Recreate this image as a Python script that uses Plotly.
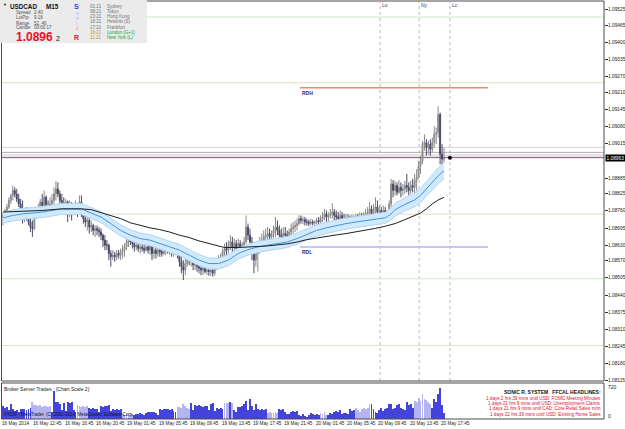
import plotly.graph_objects as go

# ---------------- data ----------------
bar_index = list(range(226))

opens = [1.08737,1.08743,1.08762,1.08775,1.08800,1.08819,1.08838,1.08825,1.08806,1.08787,
1.08768,1.08737,1.08749,1.08731,1.08718,1.08699,1.08693,1.08737,1.08762,1.08768,
1.08794,1.08781,1.08812,1.08775,1.08768,1.08787,1.08800,1.08825,1.08844,1.08825,
1.08800,1.08787,1.08781,1.08794,1.08768,1.08775,1.08762,1.08768,1.08775,1.08762,
1.08794,1.08749,1.08731,1.08718,1.08724,1.08699,1.08705,1.08686,1.08693,1.08686,
1.08680,1.08668,1.08649,1.08630,1.08630,1.08598,1.08586,1.08592,1.08586,1.08598,
1.08592,1.08605,1.08611,1.08623,1.08642,1.08649,1.08642,1.08636,1.08623,1.08630,
1.08617,1.08623,1.08617,1.08611,1.08623,1.08611,1.08630,1.08598,1.08611,1.08598,
1.08611,1.08605,1.08598,1.08611,1.08617,1.08611,1.08623,1.08605,1.08611,1.08617,
1.08598,1.08567,1.08548,1.08535,1.08560,1.08579,1.08573,1.08586,1.08554,1.08567,
1.08548,1.08542,1.08535,1.08542,1.08529,1.08535,1.08529,1.08535,1.08523,1.08548,
1.08567,1.08573,1.08586,1.08605,1.08617,1.08611,1.08630,1.08642,1.08623,1.08636,
1.08617,1.08636,1.08623,1.08630,1.08642,1.08699,1.08668,1.08642,1.08598,1.08573,
1.08598,1.08611,1.08636,1.08649,1.08661,1.08668,1.08674,1.08661,1.08674,1.08686,
1.08699,1.08686,1.08668,1.08661,1.08674,1.08668,1.08661,1.08680,1.08693,1.08699,
1.08705,1.08712,1.08731,1.08724,1.08727,1.08718,1.08718,1.08712,1.08718,1.08714,
1.08718,1.08724,1.08718,1.08731,1.08737,1.08749,1.08737,1.08743,1.08749,1.08756,
1.08743,1.08737,1.08731,1.08743,1.08731,1.08727,1.08734,1.08724,1.08724,1.08734,
1.08727,1.08737,1.08734,1.08739,1.08731,1.08743,1.08749,1.08756,1.08768,1.08737,
1.08762,1.08775,1.08756,1.08762,1.08743,1.08762,1.08737,1.08731,1.08787,1.08863,
1.08838,1.08857,1.08831,1.08850,1.08838,1.08844,1.08857,1.08850,1.08838,1.08857,
1.08850,1.08875,1.08888,1.08932,1.08951,1.09014,1.09020,1.09001,1.09014,1.08995,
1.09020,1.09052,1.09058,1.09127,1.08976,1.08957]

highs = [1.08756,1.08768,1.08787,1.08812,1.08825,1.08857,1.08850,1.08844,1.08825,1.08806,
1.08800,1.08768,1.08775,1.08756,1.08737,1.08724,1.08749,1.08775,1.08787,1.08806,
1.08825,1.08838,1.08819,1.08800,1.08812,1.08825,1.08850,1.08873,1.08869,1.08838,
1.08825,1.08812,1.08806,1.08800,1.08800,1.08794,1.08787,1.08800,1.08787,1.08819,
1.08819,1.08768,1.08749,1.08737,1.08737,1.08724,1.08712,1.08705,1.08705,1.08699,
1.08693,1.08674,1.08668,1.08649,1.08636,1.08611,1.08611,1.08605,1.08611,1.08611,
1.08617,1.08630,1.08636,1.08655,1.08661,1.08661,1.08655,1.08649,1.08642,1.08649,
1.08642,1.08642,1.08636,1.08636,1.08642,1.08649,1.08649,1.08636,1.08623,1.08623,
1.08630,1.08623,1.08623,1.08630,1.08630,1.08636,1.08630,1.08623,1.08630,1.08636,
1.08617,1.08598,1.08573,1.08579,1.08592,1.08598,1.08605,1.08598,1.08586,1.08586,
1.08573,1.08560,1.08554,1.08560,1.08554,1.08554,1.08548,1.08554,1.08567,1.08579,
1.08592,1.08598,1.08617,1.08636,1.08642,1.08649,1.08668,1.08661,1.08655,1.08649,
1.08655,1.08649,1.08642,1.08661,1.08743,1.08712,1.08693,1.08661,1.08642,1.08623,
1.08636,1.08661,1.08674,1.08686,1.08693,1.08699,1.08693,1.08686,1.08705,1.08737,
1.08724,1.08705,1.08693,1.08699,1.08699,1.08686,1.08693,1.08712,1.08718,1.08724,
1.08731,1.08743,1.08743,1.08739,1.08737,1.08731,1.08727,1.08731,1.08727,1.08724,
1.08734,1.08737,1.08743,1.08756,1.08768,1.08762,1.08756,1.08768,1.08790,1.08768,
1.08762,1.08756,1.08762,1.08756,1.08749,1.08749,1.08747,1.08743,1.08747,1.08743,
1.08749,1.08749,1.08756,1.08752,1.08756,1.08768,1.08775,1.08794,1.08781,1.08787,
1.08812,1.08800,1.08781,1.08775,1.08781,1.08775,1.08762,1.08800,1.08882,1.08878,
1.08875,1.08869,1.08878,1.08869,1.08863,1.08875,1.08901,1.08869,1.08875,1.08882,
1.08901,1.08919,1.08951,1.08970,1.09027,1.09052,1.09033,1.09027,1.09033,1.09039,
1.09083,1.09077,1.09159,1.09134,1.09014,1.09001]

lows = [1.08705,1.08731,1.08749,1.08768,1.08787,1.08800,1.08812,1.08794,1.08775,1.08749,
1.08712,1.08718,1.08724,1.08705,1.08680,1.08661,1.08686,1.08731,1.08743,1.08756,
1.08768,1.08768,1.08756,1.08737,1.08749,1.08768,1.08787,1.08800,1.08812,1.08775,
1.08762,1.08768,1.08762,1.08718,1.08737,1.08724,1.08743,1.08749,1.08737,1.08756,
1.08737,1.08712,1.08699,1.08686,1.08674,1.08680,1.08668,1.08661,1.08668,1.08661,
1.08649,1.08623,1.08611,1.08611,1.08573,1.08548,1.08573,1.08567,1.08573,1.08579,
1.08573,1.08579,1.08586,1.08611,1.08623,1.08630,1.08617,1.08605,1.08611,1.08605,
1.08598,1.08605,1.08598,1.08605,1.08598,1.08592,1.08573,1.08579,1.08579,1.08586,
1.08586,1.08586,1.08592,1.08592,1.08598,1.08592,1.08586,1.08586,1.08592,1.08579,
1.08548,1.08523,1.08497,1.08516,1.08548,1.08554,1.08548,1.08535,1.08535,1.08529,
1.08523,1.08516,1.08516,1.08523,1.08516,1.08513,1.08513,1.08510,1.08513,1.08535,
1.08542,1.08554,1.08573,1.08586,1.08592,1.08598,1.08611,1.08598,1.08605,1.08598,
1.08611,1.08598,1.08605,1.08611,1.08636,1.08649,1.08623,1.08573,1.08523,1.08548,
1.08529,1.08598,1.08623,1.08630,1.08642,1.08649,1.08649,1.08649,1.08655,1.08661,
1.08668,1.08649,1.08642,1.08649,1.08655,1.08642,1.08649,1.08668,1.08674,1.08680,
1.08686,1.08705,1.08712,1.08709,1.08705,1.08705,1.08702,1.08705,1.08705,1.08702,
1.08709,1.08709,1.08712,1.08718,1.08724,1.08718,1.08718,1.08731,1.08731,1.08724,
1.08718,1.08718,1.08724,1.08718,1.08714,1.08718,1.08714,1.08712,1.08718,1.08714,
1.08718,1.08722,1.08724,1.08722,1.08724,1.08727,1.08731,1.08737,1.08718,1.08712,
1.08743,1.08737,1.08731,1.08724,1.08737,1.08718,1.08718,1.08724,1.08775,1.08812,
1.08819,1.08819,1.08825,1.08812,1.08819,1.08825,1.08831,1.08819,1.08825,1.08831,
1.08825,1.08838,1.08882,1.08901,1.08938,1.08989,1.08970,1.08976,1.08970,1.08983,
1.09001,1.09014,1.09039,1.08938,1.08932,1.08945]

closes = [1.08743,1.08762,1.08775,1.08800,1.08819,1.08838,1.08825,1.08806,1.08787,1.08768,
1.08737,1.08749,1.08731,1.08718,1.08699,1.08693,1.08737,1.08762,1.08768,1.08794,
1.08781,1.08812,1.08775,1.08768,1.08787,1.08800,1.08825,1.08844,1.08825,1.08800,
1.08787,1.08781,1.08794,1.08768,1.08775,1.08762,1.08768,1.08775,1.08762,1.08794,
1.08749,1.08731,1.08718,1.08724,1.08699,1.08705,1.08686,1.08693,1.08686,1.08680,
1.08668,1.08649,1.08630,1.08630,1.08598,1.08586,1.08592,1.08586,1.08598,1.08592,
1.08605,1.08611,1.08623,1.08642,1.08649,1.08642,1.08636,1.08623,1.08630,1.08617,
1.08623,1.08617,1.08611,1.08623,1.08611,1.08630,1.08598,1.08611,1.08598,1.08611,
1.08605,1.08598,1.08611,1.08617,1.08611,1.08623,1.08605,1.08611,1.08617,1.08598,
1.08567,1.08548,1.08535,1.08560,1.08579,1.08573,1.08586,1.08554,1.08567,1.08548,
1.08542,1.08535,1.08542,1.08529,1.08535,1.08529,1.08535,1.08523,1.08548,1.08567,
1.08573,1.08586,1.08605,1.08617,1.08611,1.08630,1.08642,1.08623,1.08636,1.08617,
1.08636,1.08623,1.08630,1.08642,1.08699,1.08668,1.08642,1.08598,1.08573,1.08598,
1.08611,1.08636,1.08649,1.08661,1.08668,1.08674,1.08661,1.08674,1.08686,1.08699,
1.08686,1.08668,1.08661,1.08674,1.08668,1.08661,1.08680,1.08693,1.08699,1.08705,
1.08712,1.08731,1.08724,1.08727,1.08718,1.08718,1.08712,1.08718,1.08714,1.08718,
1.08724,1.08718,1.08731,1.08737,1.08749,1.08737,1.08743,1.08749,1.08756,1.08743,
1.08737,1.08731,1.08743,1.08731,1.08727,1.08734,1.08724,1.08724,1.08734,1.08727,
1.08737,1.08734,1.08739,1.08731,1.08743,1.08749,1.08756,1.08768,1.08737,1.08762,
1.08775,1.08756,1.08762,1.08743,1.08762,1.08737,1.08731,1.08787,1.08863,1.08838,
1.08857,1.08831,1.08850,1.08838,1.08844,1.08857,1.08850,1.08838,1.08857,1.08850,
1.08875,1.08888,1.08932,1.08951,1.09014,1.09020,1.09001,1.09014,1.08995,1.09020,
1.09052,1.09058,1.09127,1.08976,1.08957,1.08963]

volumes = [300,260,280,200,350,240,180,210,150,230,
220,240,200,230,250,390,330,320,300,320,
280,300,310,280,290,160,650,380,390,350,
200,370,180,380,360,380,200,150,320,300,
280,290,270,290,250,230,260,240,220,160,
300,280,310,290,320,180,220,200,230,210,
220,110,100,120,110,100,110,90,120,110,
130,120,100,130,160,150,170,160,140,100,
230,210,240,220,230,200,220,180,160,280,
270,260,350,290,250,240,370,200,320,300,
330,300,280,310,300,200,350,370,180,250,
240,260,230,370,360,370,390,370,200,150,
280,270,290,350,410,200,470,300,200,340,
220,210,230,200,220,140,150,130,140,150,
140,230,200,230,150,120,110,150,180,170,
180,90,70,110,60,50,100,145,120,90,
110,100,145,120,160,100,90,130,110,160,
180,150,200,120,130,145,120,220,180,200,
260,200,150,220,260,240,260,340,355,220,
160,145,200,260,180,220,250,340,355,240,
260,320,340,250,220,200,380,320,355,260,
415,380,490,420,570,450,430,380,340,260,
450,380,570,710,320,145]
# bars drawn in the pale shade of the volume indicator
light_vol_spans = [(15, 24), (38, 43), (61, 66), (89, 95), (113, 115), (117, 117),
                   (135, 140), (162, 165), (180, 187), (210, 218)]

dragon_x = [0,5,10,15,20,25,30,35,40,45,50,55,60,65,70,75,80,85,90,95,100,105,110,115,120,
            125,130,135,140,145,150,155,160,165,170,175,180,185,190,195,198,200,205,210,213,
            216,219,222,225]
dragon_mid = [1.08734,1.08743,1.08749,1.08752,1.08756,1.08762,1.08768,1.08768,1.08768,1.08752,
              1.08737,1.08712,1.08686,1.08668,1.08655,1.08649,1.08636,1.08623,1.08611,1.08592,
              1.08573,1.08560,1.08560,1.08573,1.08598,1.08613,1.08623,1.08630,1.08636,1.08642,
              1.08655,1.08671,1.08686,1.08696,1.08705,1.08712,1.08718,1.08724,1.08729,1.08734,
              1.08749,1.08765,1.08785,1.08802,1.08819,1.08844,1.08869,1.08894,1.08913]
dragon_high = [1.08755,1.08764,1.08770,1.08773,1.08777,1.08783,1.08789,1.08789,1.08789,1.08773,
               1.08758,1.08733,1.08707,1.08689,1.08676,1.08670,1.08657,1.08644,1.08632,1.08613,
               1.08594,1.08581,1.08581,1.08594,1.08619,1.08634,1.08644,1.08651,1.08657,1.08663,
               1.08676,1.08692,1.08707,1.08717,1.08726,1.08733,1.08739,1.08745,1.08750,1.08755,
               1.08772,1.08789,1.08810,1.08828,1.08846,1.08872,1.08898,1.08924,1.08944]
dragon_low = [1.08713,1.08722,1.08728,1.08731,1.08735,1.08741,1.08747,1.08747,1.08747,1.08731,
              1.08716,1.08691,1.08665,1.08647,1.08634,1.08628,1.08615,1.08602,1.08590,1.08571,
              1.08552,1.08539,1.08539,1.08552,1.08577,1.08592,1.08602,1.08609,1.08615,1.08621,
              1.08634,1.08650,1.08665,1.08675,1.08684,1.08691,1.08697,1.08703,1.08708,1.08713,
              1.08726,1.08741,1.08760,1.08776,1.08792,1.08816,1.08840,1.08864,1.08882]

trend_x = [0,10,20,30,40,45,55,60,65,70,75,80,85,90,95,100,105,110,113,120,125,130,135,140,145,
           150,155,160,165,170,175,180,185,190,195,200,205,210,213,216,219,222,225]
trend_ma = [1.08756,1.08759,1.08762,1.08768,1.08768,1.08765,1.08743,1.08731,1.08715,1.08705,
            1.08696,1.08689,1.08680,1.08668,1.08659,1.08646,1.08636,1.08626,1.08621,1.08621,
            1.08622,1.08625,1.08627,1.08630,1.08635,1.08642,1.08651,1.08657,1.08664,1.08669,
            1.08674,1.08680,1.08686,1.08694,1.08702,1.08712,1.08727,1.08743,1.08752,1.08768,
            1.08787,1.08802,1.08812]

price_ticks = [1.09525,1.09465,1.09400,1.09335,1.09270,1.09210,1.09145,1.09080,1.09015,
               1.08885,1.08825,1.08760,1.08695,1.08630,1.08570,1.08505,1.08440,1.08375,
               1.08310,1.08245,1.08180,1.08115]
price_tick_text = ["1.09525","1.09465","1.09400","1.09335","1.09270","1.09210","1.09145",
                   "1.09080","1.09015","1.08885","1.08825","1.08760","1.08695","1.08630",
                   "1.08570","1.08505","1.08440","1.08375","1.08310","1.08245","1.08180","1.08115"]
bid_price = 1.08963
bid_text = "1.08963"

date_label_bars = [0,16,32,48,64,80,96,112,128,144,160,176,192,208,224]
date_labels = ["16 May 2014","16 May 12:45","16 May 16:45","16 May 20:45","19 May 01:45",
               "19 May 05:45","19 May 09:45","19 May 13:45","19 May 17:45","19 May 21:45",
               "20 May 01:45","20 May 05:45","20 May 09:45","20 May 13:45","20 May 17:45"]

session_names = ["Lo", "Ny", "Lc"]
session_bars = [192.4, 212.3, 228.0]

green_levels = [1.09498, 1.08502]
tan_levels = [1.09248, 1.08748, 1.08248]
lavender_level = 1.09002
grey_level = 1.08983
pink_zone = (1.08962, 1.08977)
rdh_price = 1.09229
rdl_price = 1.08623
range_start_bar, range_end_bar = 151.5, 247.4

headlines = ["1 days 2 hrs 39 mins until USD: FOMC Meeting Minutes",
             "1 days 21 hrs 9 mins until USD: Unemployment Claims",
             "1 days 21 hrs 9 mins until CAD: Core Retail Sales m/m",
             "1 days 22 hrs 39 mins until USD: Existing Home Sales"]
clock_times = ["01:21","08:21","23:21","18:21","17:21","16:21","11:21"]
clock_cities = ["Sydney","Tokyo","Hong Kong","Helsinki (S)","Frankfurt","London (G+1)","New York (L)"]
info_labels = ["Spread","LotPip","Range","Candle"]
info_values = ["2.40","9.18","52, 46","00:00:17"]

# ---------------- layout helpers ----------------
W, H = 625, 429
ML, MR, MT, MB = 2, 21, 2, 10
PW, PH = W - ML - MR, H - MT - MB


def fx(p):
    return (p - ML) / PW


def fy(p):
    return (H - MB - p) / PH


FONT = "Liberation Sans, Arial, sans-serif"
X_RANGE = [-0.51, 306.6]
Y_RANGE = [1.08113, 1.095553]

fig = go.Figure()

# dragon band
fig.add_trace(go.Scatter(x=dragon_x, y=dragon_low, mode="lines",
                         line=dict(color="#aed4f6", width=1), hoverinfo="skip", showlegend=False))
fig.add_trace(go.Scatter(x=dragon_x, y=dragon_high, mode="lines", fill="tonexty",
                         fillcolor="#d2e9fb", line=dict(color="#aed4f6", width=1),
                         hoverinfo="skip", showlegend=False))

# candles
fig.add_trace(go.Candlestick(x=bar_index, open=opens, high=highs, low=lows, close=closes,
                             increasing=dict(line=dict(color="#8a8a8a", width=1), fillcolor="#b4b4b4"),
                             decreasing=dict(line=dict(color="#4a4a66", width=1), fillcolor="#4a4a66"),
                             whiskerwidth=0, showlegend=False, hoverinfo="skip"))

fig.add_trace(go.Scatter(x=dragon_x, y=dragon_mid, mode="lines",
                         line=dict(color="#3d95e3", width=1), hoverinfo="skip", showlegend=False))
fig.add_trace(go.Scatter(x=trend_x, y=trend_ma, mode="lines",
                         line=dict(color="#1e1e1e", width=1), hoverinfo="skip", showlegend=False))

# bid marker
fig.add_trace(go.Scatter(x=[session_bars[2]], y=[bid_price], mode="markers",
                         marker=dict(symbol="circle", size=4, color="black"),
                         hoverinfo="skip", showlegend=False))

# volume
def is_light(i):
    return any(a <= i <= b for a, b in light_vol_spans)

vol_colors = ["#b4b4f2" if is_light(i) else "#4444dc" for i in bar_index]
fig.add_trace(go.Bar(x=bar_index, y=volumes, marker=dict(color=vol_colors, line=dict(width=0)),
                     width=0.45, xaxis="x", yaxis="y2", hoverinfo="skip", showlegend=False))

shapes = []


def hline(price, color, width=1, x0=X_RANGE[0], x1=X_RANGE[1], dash=None):
    shapes.append(dict(type="line", xref="x", yref="y", x0=x0, x1=x1, y0=price, y1=price,
                       line=dict(color=color, width=width, dash=dash), layer="below"))


for p in green_levels:
    hline(p, "#c4ecc4")
for p in tan_levels:
    hline(p, "#e4dcc0")
hline(lavender_level, "#d0d0f6")
hline(grey_level, "#a8b4a8")
shapes.append(dict(type="rect", xref="x", yref="y", x0=X_RANGE[0], x1=X_RANGE[1],
                   y0=pink_zone[0], y1=pink_zone[1], fillcolor="#f2dcf0", line=dict(width=0),
                   layer="below"))
hline(bid_price, "#6c6c6c")
hline(rdh_price, "#f2866a", 1.5, range_start_bar, range_end_bar)
hline(rdl_price, "#b4b4ee", 1.5, range_start_bar, range_end_bar)

for b in session_bars:
    shapes.append(dict(type="line", xref="x", yref="paper", x0=b, x1=b, y0=fy(381), y1=fy(2),
                       line=dict(color="#b8b8b8", width=1, dash="dot"), layer="below"))

# frames
frame = "#4a4a4a"
shapes.append(dict(type="rect", xref="paper", yref="paper", x0=fx(1.5), x1=fx(604), y0=fy(381),
                   y1=fy(1), line=dict(color=frame, width=1)))
shapes.append(dict(type="rect", xref="paper", yref="paper", x0=fx(1.5), x1=fx(604), y0=fy(419),
                   y1=fy(383), line=dict(color=frame, width=1)))
# info box
shapes.append(dict(type="rect", xref="paper", yref="paper", x0=fx(0), x1=fx(147), y0=fy(43),
                   y1=fy(0), fillcolor="#ebebeb", line=dict(width=0), layer="above"))

ann = []


def text(px, py, s, size=5, color="#202020", bold=False, anchor="left", bg=None):
    a = dict(xref="paper", yref="paper", x=fx(px), y=fy(py), text=("<b>%s</b>" % s) if bold else s,
             showarrow=False, xanchor=anchor, yanchor="middle", borderpad=0,
             font=dict(family=FONT, size=size, color=color))
    if bg:
        a["bgcolor"] = bg
    ann.append(a)


# price axis labels
for v, t in zip(price_ticks, price_tick_text):
    ann.append(dict(xref="paper", yref="y", x=fx(606.5), y=v, text=t, showarrow=False,
                    xanchor="left", yanchor="middle", borderpad=0,
                    font=dict(family=FONT, size=4.8, color="#202020")))
# date labels
for b, lab in zip(date_label_bars, date_labels):
    ann.append(dict(xref="x", yref="paper", x=b, y=fy(423.5), text=lab, showarrow=False,
                    xanchor="left", yanchor="middle", xshift=-2, borderpad=0,
                    font=dict(family=FONT, size=4.7, color="#202020")))
# session labels
for b, n in zip(session_bars, session_names):
    ann.append(dict(xref="x", yref="paper", x=b, y=fy(5), text=n, showarrow=False,
                    xanchor="left", yanchor="middle", xshift=1, borderpad=0,
                    font=dict(family=FONT, size=5, color="#3a3a80")))
# RDH / RDL
ann.append(dict(xref="x", yref="y", x=range_start_bar, y=rdh_price, text="<b>RDH</b>",
                showarrow=False, xanchor="left", yanchor="top", xshift=1, yshift=-1, borderpad=0,
                font=dict(family=FONT, size=5, color="#2a2a80")))
ann.append(dict(xref="x", yref="y", x=range_start_bar, y=rdl_price, text="<b>RDL</b>",
                showarrow=False, xanchor="left", yanchor="top", xshift=1, yshift=-1, borderpad=0,
                font=dict(family=FONT, size=5, color="#2a2a80")))
# current price label
ann.append(dict(xref="paper", yref="y", x=fx(604.5), y=bid_price, text=bid_text, showarrow=False,
                xanchor="left", yanchor="middle", bgcolor="black", borderpad=0.5,
                font=dict(family=FONT, size=4.8, color="white")))

# volume panel texts
text(3, 389, "Broker Server Trades:  (Chart Scale 2)", 5)
text(3, 414, "FXCM - MetaTrader, (C) 2001-2014, MetaQuotes Software Corp.", 4.5, "#101010")
text(607, 387, "720", 5)
text(607, 416, "0", 5)
text(602, 392, "SONIC R. SYSTEM   FFCAL HEADLINES:", 5, "#101010", True, "right")
for k, h in enumerate(headlines):
    text(602, 398.5 + 5.2 * k, h, 4.6, "#e0102a", False, "right")

# info panel
text(2, 5, "▼", 4, "#101010")
text(9, 6, "USDCAD", 6.3, "#101010", True)
text(45, 6, "M15", 6.3, "#101010", True)
text(73, 6, "S", 7, "#2244dd", True)
for k, (ch, col) in enumerate(zip(["o", "n", "i", "c"], ["#9fb4f0", "#b0a8ec", "#e8a0c8", "#e890b0"])):
    text(75, 13 + 5 * k, ch, 5, col)
text(73, 37, "R", 7, "#e8102a", True)
for k, (lab, val) in enumerate(zip(info_labels, info_values)):
    text(15, 13 + 5 * k, lab, 4.5, "#505050")
    text(33, 13 + 5 * k, val, 4.5, "#505050")
text(15, 36.5, "1.0896", 12, "#e8102a", True)
text(55, 38, "2", 7, "#101010")
for k, (t, c) in enumerate(zip(clock_times, clock_cities)):
    yy = 6 + 5.3 * k
    tc = "#707070" if k < 5 else "#d08830"
    cc = "#707070" if k < 5 else "#20a020"
    text(89, yy, t, 4.5, tc)
    text(106, yy, c, 4.5, cc)

fig.update_layout(
    width=W, height=H, autosize=False,
    margin=dict(l=ML, r=MR, t=MT, b=MB, pad=0),
    paper_bgcolor="white", plot_bgcolor="white",
    showlegend=False, shapes=shapes, annotations=ann, bargap=0,
    xaxis=dict(range=X_RANGE, showgrid=False, zeroline=False, showticklabels=False, ticks="",
               showline=False, rangeslider=dict(visible=False), anchor="y2", fixedrange=True),
    yaxis=dict(domain=[fy(381), fy(2)], range=Y_RANGE, side="right", tickvals=price_ticks,
               showticklabels=False, ticks="outside", ticklen=3, tickcolor="#303030",
               showgrid=False, zeroline=False, showline=False, automargin=False, fixedrange=True),
    yaxis2=dict(domain=[0, fy(383)], range=[0, 828], showticklabels=False, ticks="",
                showgrid=False, zeroline=False, showline=False, automargin=False),
)

fig.write_html("out.html")
